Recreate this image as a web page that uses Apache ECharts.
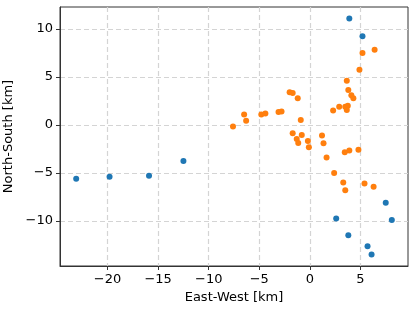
<!DOCTYPE html>
<html><head><meta charset="utf-8">
<script src="https://cdn.jsdelivr.net/npm/echarts@6/dist/echarts.min.js"></script>
<style>html,body{margin:0;padding:0;background:#fff}#c{width:415px;height:311px}</style>
</head><body><div id="c"></div>
<script>
const xTicks = [-20, -15, -10, -5, 0, 5];
const yTicks = [-10, -5, 0, 5, 10];
const blueX = [-23.1, -19.8, -15.9, -12.5, 3.9, 5.2, 7.5, 8.1, 2.6, 3.8, 5.7, 6.1];
const blueY = [-5.6, -5.4, -5.3, -3.75, 11.1, 9.25, -8.1, -9.9, -9.75, -11.5, -12.65, -13.5];
const orangeX = [-7.6, -6.5, -6.3, -4.8, -4.4, -3.1, -2.8, -2.0, -1.7, -1.2, -0.9, 2.3, 2.9, 3.5, 3.75, 3.65, 3.65, 3.8, 4.1, 4.3, 4.9, 5.2, 6.4,
  -1.7, -1.3, -1.15, -0.8, -0.2, -0.1, 1.2, 1.35, 1.65, 3.45, 3.9, 4.8, 2.4, 3.3, 3.5, 5.4, 6.3];
const orangeY = [-0.17, 1.1, 0.45, 1.1, 1.2, 1.35, 1.4, 3.4, 3.33, 2.8, 0.52, 1.5, 1.9, 1.9, 2.0, 1.55, 4.6, 3.65, 3.1, 2.8, 5.75, 7.5, 7.85,
  -0.87, -1.45, -1.88, -1.05, -1.67, -2.33, -1.1, -1.9, -3.4, -2.85, -2.67, -2.57, -5.0, -6.0, -6.8, -6.1, -6.45];

const chart = echarts.init(document.getElementById('c'), null, {renderer: 'canvas'});
const font = 'DejaVu Sans';
const FS = 13;
const axisCommon = {
  axisLine: {show: true, onZero: false, lineStyle: {color: '#333', width: 1}},
  axisTick: {show: true, length: 4, lineStyle: {color: '#333', width: 1}},
  splitLine: {show: true, lineStyle: {color: '#d4d4d4', width: 1.2, type: [5, 3]}},
  nameLocation: 'middle',
  nameTextStyle: {fontFamily: font, fontSize: FS, color: '#000'}
};
const fmt = v => (v < 0 ? '\u2212' + Math.abs(v) : String(v));
chart.setOption({
  animation: false,
  grid: {left: 60, right: 7, top: 7, bottom: 45, outerBoundsMode: 'none', containLabel: false,
    show: true, borderColor: '#333', borderWidth: 1, backgroundColor: 'transparent'},
  xAxis: Object.assign({}, axisCommon, {
    type: 'value', min: -24.7, max: 9.7,
    name: 'East-West [km]', nameGap: 24,
    axisTick: Object.assign({}, axisCommon.axisTick, {customValues: xTicks}),
    axisLabel: {customValues: xTicks, formatter: fmt, fontFamily: font, fontSize: FS, color: '#000', margin: 7}
  }),
  yAxis: Object.assign({}, axisCommon, {
    type: 'value', min: -14.7, max: 12.3,
    name: 'North-South [km]', nameGap: 35,
    axisTick: Object.assign({}, axisCommon.axisTick, {customValues: yTicks}),
    axisLabel: {customValues: yTicks, formatter: fmt, fontFamily: font, fontSize: FS, color: '#000', margin: 7}
  }),
  series: [
    {type: 'scatter', symbolSize: 6, itemStyle: {color: '#1f77b4', opacity: 1}, data: blueX.map((x, i) => [x, blueY[i]])},
    {type: 'scatter', symbolSize: 6, itemStyle: {color: '#ff7f0e', opacity: 1}, data: orangeX.map((x, i) => [x, orangeY[i]])}
  ]
});
</script></body></html>
